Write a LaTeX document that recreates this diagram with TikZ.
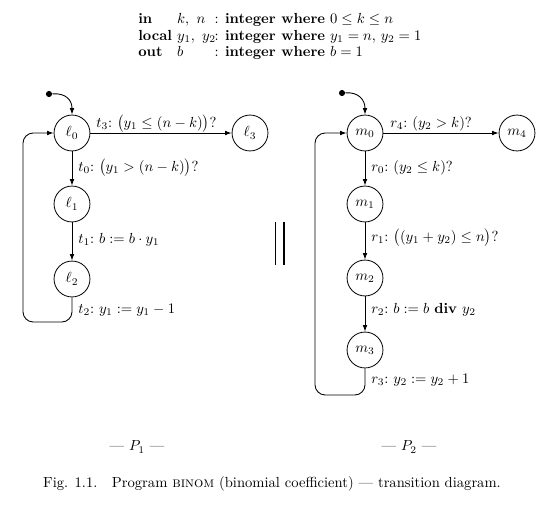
\documentclass[tikz,border=0pt]{standalone}
\usetikzlibrary{arrows.meta}
\begin{document}
\begin{tikzpicture}[x=0.685pt,y=-0.685pt,
  st/.style={draw,circle,minimum size=24.6pt,inner sep=0pt,line width=0.55pt},
  tr/.style={line width=0.6pt,-{Latex[length=4.5pt,width=3.2pt]}},
  lp/.style={line width=0.6pt,rounded corners=7pt,-{Latex[length=4.5pt,width=3.2pt]}},
  lab/.style={inner sep=0pt,anchor=base west},
  dot/.style={circle,fill,inner sep=0pt,minimum size=4.2pt}]
\useasboundingbox (0,0) rectangle (554,513);
% header
\node[anchor=base west,inner sep=0pt] (hdr) at (138,24) {%
\renewcommand{\arraystretch}{0.94}%
\begin{tabular}[t]{@{}l@{\hspace{0.35em}}l@{}l@{}}
\textbf{in} & $k,\ n$ & : \textbf{integer where} $0\le k\le n$\\
\textbf{local} & $y_1,\ y_2$\hspace{-0.1em} & : \textbf{integer where} $y_1=n,\, y_2=1$\\
\textbf{out} & $b$ & : \textbf{integer where} $b=1$
\end{tabular}};
% left process
\node[st] (l0) at (72,133) {$\ell_0$};
\node[st] (l3) at (250,133) {$\ell_3$};
\node[st] (l1) at (72,204) {$\ell_1$};
\node[st] (l2) at (72,279) {$\ell_2$};
\node[dot] (d1) at (49,94) {};
\draw[tr] (d1) .. controls (66,93) and (72,100) .. (l0);
\draw[tr] (l0) -- (l3);
\draw[tr] (l0) -- (l1);
\draw[tr] (l1) -- (l2);
\draw[lp] (l2.south) -- (72,322) -- (23,322) -- (23,133) -- (l0.west);
\node[lab] (t3) at (96,127) {$t_3$:\ $\bigl(y_1\le(n-k)\bigr)?$};
\node[lab] (t0) at (78,171) {$t_0$:\ $\bigl(y_1>(n-k)\bigr)?$};
\node[lab] (t1) at (78,243) {$t_1$:\ $b:=b\cdot y_1$};
\node[lab] (t2) at (78,313) {$t_2$:\ $y_1:=y_1-1$};
% parallel
\coordinate (b1t) at (275.5,222); \coordinate (b1b) at (275.5,265);
\coordinate (b2t) at (284,222); \coordinate (b2b) at (284,265);
\draw[line width=0.7pt] (b1t) -- (b1b) (b2t) -- (b2b);
% right process
\node[st] (m0) at (365,133) {$m_0$};
\node[st] (m4) at (517,133) {$m_4$};
\node[st] (m1) at (365,204) {$m_1$};
\node[st] (m2) at (365,278) {$m_2$};
\node[st] (m3) at (365,350) {$m_3$};
\node[dot] (d2) at (342,93) {};
\draw[tr] (d2) .. controls (359,92) and (365,100) .. (m0);
\draw[tr] (m0) -- (m4);
\draw[tr] (m0) -- (m1);
\draw[tr] (m1) -- (m2);
\draw[tr] (m2) -- (m3);
\draw[lp] (m3.south) -- (365,395) -- (315,395) -- (315,133) -- (m0.west);
\node[lab] (r4) at (390,127) {$r_4$:\ $(y_2>k)?$};
\node[lab] (r0) at (371,171) {$r_0$:\ $(y_2\le k)?$};
\node[lab] (r1) at (371,241) {$r_1$:\ $\bigl((y_1+y_2)\le n\bigr)?$};
\node[lab] (r2) at (371,313) {$r_2$:\ $b:=b\ \mathbf{div}\ y_2$};
\node[lab] (r3) at (371,383) {$r_3$:\ $y_2:=y_2+1$};
% titles
\node (p1) at (137,447) {--- $P_1$ ---};
\node (p2) at (409,447) {--- $P_2$ ---};
\node (cap) at (272,484) {Fig. 1.1.\quad Program \textsc{binom} (binomial coefficient) --- transition diagram.};
\end{tikzpicture}
\end{document}
